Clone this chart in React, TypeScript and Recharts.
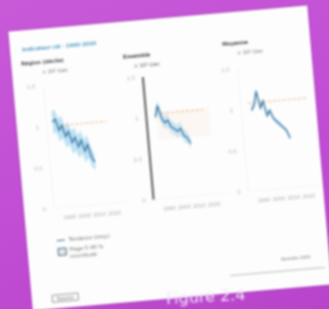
import React from 'react';
import { ComposedChart, Area, Line, XAxis, YAxis, ReferenceLine, ReferenceArea } from 'recharts';

// panel 1
const years1 = [1984, 1986, 1988, 1990, 1992, 1994, 1996, 1998, 2000, 2002, 2004, 2006, 2008, 2010];
const mean1 = [1.05, 1.08, 0.94, 1.0, 0.86, 0.92, 0.78, 0.84, 0.72, 0.8, 0.66, 0.74, 0.58, 0.52];
const low1 = [0.9, 0.93, 0.8, 0.85, 0.72, 0.76, 0.64, 0.68, 0.58, 0.64, 0.52, 0.58, 0.46, 0.42];
const high1 = [1.18, 1.2, 1.08, 1.12, 0.98, 1.04, 0.92, 0.96, 0.86, 0.92, 0.8, 0.86, 0.7, 0.62];

// panel 2
const years2 = [1986, 1988, 1990, 1992, 1994, 1996, 1998, 2000, 2002, 2004, 2006, 2008];
const mean2 = [1.0, 1.14, 0.98, 0.92, 0.95, 0.86, 0.84, 0.8, 0.84, 0.74, 0.72, 0.64];
const low2 = [0.94, 1.06, 0.9, 0.84, 0.86, 0.78, 0.76, 0.72, 0.75, 0.66, 0.65, 0.58];
const high2 = [1.07, 1.2, 1.06, 1.0, 1.03, 0.94, 0.92, 0.88, 0.92, 0.82, 0.8, 0.7];

// panel 3
const years3 = [1987, 1989, 1991, 1993, 1995, 1997, 1999, 2001, 2003, 2005, 2007, 2009, 2011];
const mean3 = [0.98, 1.05, 1.21, 1.0, 1.08, 0.9, 0.96, 0.86, 0.82, 0.78, 0.74, 0.7, 0.6];
const low3 = [0.95, 1.01, 1.16, 0.96, 1.04, 0.87, 0.92, 0.83, 0.79, 0.75, 0.71, 0.67, 0.57];
const high3 = [1.01, 1.09, 1.25, 1.04, 1.12, 0.93, 1.0, 0.89, 0.85, 0.81, 0.77, 0.73, 0.63];

const refValues = [1.0, 1.04, 1.07];
const refStart = [1989, 1990, 1985];
const refEnd = [2020, 2018, 2025];

const yTicks = [0, 0.5, 1, 1.5];
const xTicks = [1990, 2000, 2010, 2020];

const titles = ['Région (décile)', 'Ensemble', 'Moyenne'];
const units = ['× 10³ t/an', '× 10³ t/an', '× 10³ t/an'];

const build = (years: number[], mean: number[], low: number[], high: number[]) =>
  years.map((y, i) => ({ year: y, mean: mean[i], band: [low[i], high[i]] }));

const panels = [
  { data: build(years1, mean1, low1, high1), left: 5, axisColor: '#f4f4f4', bandOpacity: 0.75 },
  { data: build(years2, mean2, low2, high2), left: 105, axisColor: '#333', bandOpacity: 0.55 },
  { data: build(years3, mean3, low3, high3), left: 200, axisColor: '#f4f4f4', bandOpacity: 0.5 },
];

const tick = { fill: '#aaa', fontSize: 5 };

const Panel = ({ idx }: { idx: number }) => {
  const p = panels[idx];
  return (
    <div style={{ position: 'absolute', left: p.left, top: 40 }}>
      <ComposedChart width={100} height={160} data={p.data} margin={{ top: 17, right: 0, bottom: 0, left: 0 }}>
        <XAxis dataKey="year" type="number" domain={[1980, 2030]} ticks={xTicks} height={20}
          tick={tick} axisLine={{ stroke: '#f6f6f6' }} tickLine={false} />
        <YAxis domain={[0, 1.5]} ticks={yTicks} width={25} tick={tick}
          axisLine={{ stroke: p.axisColor, strokeWidth: idx === 1 ? 1.6 : 1 }} tickLine={false} />
        {idx === 1 && (
          <ReferenceArea x1={1987} x2={2022} y1={0.72} y2={1.06} fill="#f6c89a" fillOpacity={0.1} stroke="none" />
        )}
        <Area dataKey="band" stroke="none" fill="#a9d8f0" fillOpacity={p.bandOpacity} isAnimationActive={false} />
        <ReferenceLine segment={[{ x: refStart[idx], y: refValues[idx] }, { x: refEnd[idx], y: refValues[idx] }]}
          stroke="#f0b27a" strokeDasharray="3 2" strokeWidth={1} />
        <Line dataKey="mean" stroke="#2f6f9c" strokeWidth={1.3} dot={false} isAnimationActive={false} />
      </ComposedChart>
    </div>
  );
};

const small: React.CSSProperties = { position: 'absolute', fontSize: 5, color: '#666', whiteSpace: 'nowrap' };

export default function App() {
  return (
    <div style={{ position: 'fixed', left: 0, top: 0, width: 329, height: 309, overflow: 'hidden',
      background: 'linear-gradient(160deg, #c85ad8 0%, #c04cd4 60%, #b944cc 100%)', fontFamily: '"DejaVu Sans", sans-serif' }}>
      <div style={{ position: 'absolute', left: 20, top: 18, width: 300, height: 280, background: '#fdfdfd',
        transform: 'rotate(-5deg)', filter: 'blur(0.9px)', boxShadow: '0 0 3px rgba(0,0,0,0.2)' }}>
        <div style={{ ...small, left: 12, top: 16, color: '#4a98c4', fontWeight: 'bold' }}>Indicateur clé · 1990–2020</div>
        <div style={{ ...small, left: 10, top: 30, color: '#444', fontWeight: 'bold' }}>{titles[0]}</div>
        <div style={{ ...small, left: 30, top: 40 }}>{units[0]}</div>
        <div style={{ ...small, left: 112, top: 32, color: '#333', fontWeight: 'bold' }}>{titles[1]}</div>
        <div style={{ ...small, left: 122, top: 42, color: '#444' }}>{units[1]}</div>
        <div style={{ ...small, left: 212, top: 28, color: '#333', fontWeight: 'bold' }}>{titles[2]}</div>
        <div style={{ ...small, left: 226, top: 38 }}>{units[2]}</div>
        <Panel idx={0} />
        <Panel idx={1} />
        <Panel idx={2} />
        <div style={{ position: 'absolute', left: 30, top: 212, width: 8, borderTop: '1.5px solid #2f6f9c' }} />
        <div style={{ ...small, left: 42, top: 209 }}>Tendance (moy.)</div>
        <div style={{ position: 'absolute', left: 30, top: 220, width: 7, height: 6, border: '1px solid #666', background: '#d6ecf8' }} />
        <div style={{ ...small, left: 42, top: 219 }}>Plage 5–95 %</div>
        <div style={{ ...small, left: 42, top: 226 }}>incertitude</div>
        <div style={{ ...small, left: 20, top: 266, border: '1px solid #999', padding: '0 4px' }}>Source</div>
        <div style={{ ...small, left: 252, top: 248, fontSize: 4 }}>Données 2020</div>
        <div style={{ position: 'absolute', left: 200, top: 262, width: 95, borderTop: '1px solid #bbb' }} />
      </div>
      <div style={{ position: 'absolute', left: 166, top: 287, color: '#f4e8f8', fontSize: 16, whiteSpace: 'nowrap',
        transform: 'rotate(-3deg)', filter: 'blur(0.8px)' }}>Figure 2.4</div>
    </div>
  );
}
